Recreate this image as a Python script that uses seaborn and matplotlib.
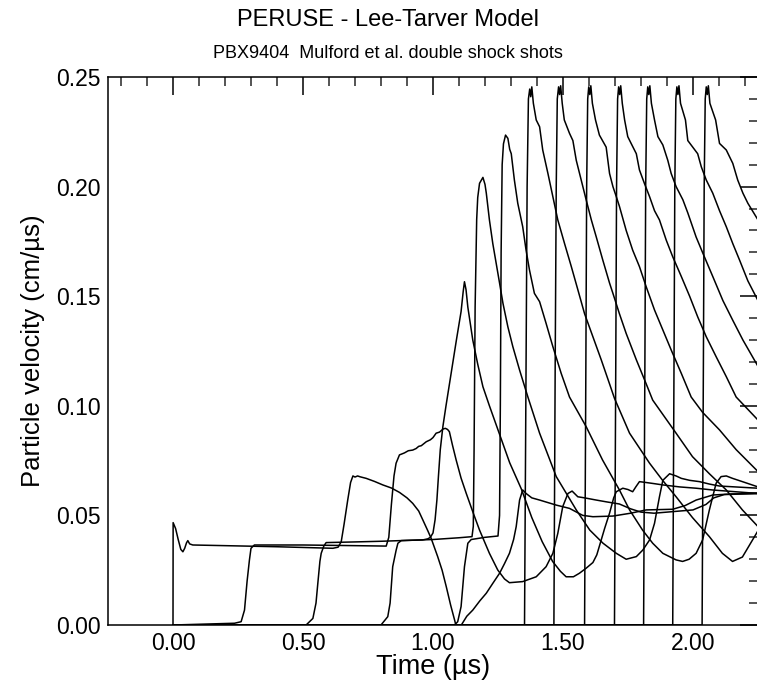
import numpy as np
import pandas as pd
import matplotlib
matplotlib.use("Agg")
import matplotlib.pyplot as plt
import seaborn as sns
from matplotlib.ticker import MultipleLocator, FormatStrFormatter

# ---------------- data (time in microseconds, particle velocity in cm/us) ----------------
g1_t = [0.0, 0.0005, 0.01, 0.02, 0.03, 0.038, 0.045, 0.052, 0.057, 0.064, 0.076, 0.2, 0.4, 0.615,
        0.635, 0.647, 0.658, 0.672, 0.683, 0.692, 0.70, 0.71, 0.72, 0.743, 0.775, 0.807, 0.84, 0.871,
        0.90, 0.922, 0.945, 0.961, 0.98, 0.993, 1.018, 1.035, 1.051, 1.068, 1.083, 1.092, 1.10, 1.109,
        1.13, 1.153, 1.18, 1.205, 1.23, 1.256, 1.275, 1.294, 1.31, 1.32, 1.333, 1.345, 1.358, 1.38,
        1.41, 1.474, 1.525, 1.576, 1.615, 1.692, 1.76, 1.82, 1.922, 1.97, 2.012, 2.076, 2.15, 2.25]
g1_v = [0.0, 0.0467, 0.044, 0.039, 0.0345, 0.0334, 0.035, 0.0375, 0.0385, 0.037, 0.0365, 0.0362, 0.0357, 0.035,
        0.0355, 0.038, 0.046, 0.057, 0.065, 0.068, 0.0675, 0.068, 0.0676, 0.0669, 0.0655, 0.0639, 0.0625, 0.0605,
        0.058, 0.0555, 0.052, 0.0479, 0.043, 0.0395, 0.0312, 0.025, 0.0175, 0.009, 0.0023, -0.002, -0.003, 0.0,
        0.004, 0.0068, 0.011, 0.0145, 0.019, 0.0236, 0.028, 0.0327, 0.039, 0.0449, 0.057, 0.0616, 0.060, 0.058,
        0.057, 0.0547, 0.0532, 0.050, 0.0494, 0.0497, 0.051, 0.0525, 0.0528, 0.0545, 0.057, 0.0593, 0.0598, 0.060]

g2_t = [0.0, 0.2365, 0.262, 0.275, 0.285, 0.294, 0.30, 0.313, 0.5, 0.7, 0.82, 0.83, 0.84, 0.85, 0.858,
        0.871, 0.89, 0.905, 0.922, 0.935, 0.945, 0.955, 0.974, 0.99, 1.0, 1.012, 1.025, 1.04, 1.048, 1.056,
        1.063, 1.075, 1.089, 1.108, 1.128, 1.155, 1.179, 1.217, 1.249, 1.275, 1.294, 1.345, 1.397, 1.435,
        1.461, 1.48, 1.499, 1.519, 1.535, 1.557, 1.583, 1.628, 1.666, 1.717, 1.76, 1.80, 1.85, 1.90, 1.95,
        2.0, 2.05, 2.08, 2.12, 2.25]
g2_v = [0.0, 0.0008, 0.0015, 0.0068, 0.020, 0.0297, 0.035, 0.0365, 0.0365, 0.0362, 0.036, 0.040, 0.055, 0.068, 0.0738,
        0.0776, 0.0785, 0.0795, 0.0798, 0.0805, 0.0815, 0.0818, 0.0836, 0.0845, 0.0855, 0.0875, 0.088, 0.0895, 0.0897, 0.0892,
        0.0882, 0.082, 0.0753, 0.067, 0.060, 0.051, 0.0433, 0.0327, 0.0251, 0.021, 0.0193, 0.0198, 0.022, 0.0266,
        0.0327, 0.0418, 0.054, 0.060, 0.0611, 0.0585, 0.058, 0.057, 0.0562, 0.0552, 0.053, 0.0515, 0.051, 0.0515, 0.052,
        0.0525, 0.055, 0.058, 0.0595, 0.060]

g3_t = [0.0, 0.512, 0.538, 0.55, 0.557, 0.565, 0.57, 0.58, 0.589, 0.7, 0.8, 0.9, 0.96, 0.98, 0.99, 1.0,
        1.008, 1.015, 1.021, 1.028, 1.038, 1.05, 1.07, 1.09, 1.108, 1.116, 1.121, 1.127, 1.134, 1.153, 1.172,
        1.192, 1.217, 1.256, 1.295, 1.34, 1.38, 1.42, 1.46, 1.49, 1.512, 1.54, 1.563, 1.59, 1.615, 1.63, 1.64,
        1.66, 1.679, 1.695, 1.705, 1.73, 1.75, 1.768, 1.78, 1.794, 1.82, 1.85, 1.884, 1.948, 2.012, 2.075, 2.25]
g3_v = [0.0, 0.0, 0.003, 0.010, 0.019, 0.029, 0.0327, 0.036, 0.0376, 0.0379, 0.0382, 0.0386, 0.0388, 0.0393, 0.040, 0.042,
        0.048, 0.057, 0.068, 0.080, 0.0905, 0.100, 0.115, 0.130, 0.143, 0.152, 0.1566, 0.153, 0.145, 0.130, 0.119,
        0.1087, 0.100, 0.087, 0.074, 0.062, 0.049, 0.038, 0.029, 0.0245, 0.022, 0.022, 0.0236, 0.026, 0.0285, 0.032, 0.036,
        0.044, 0.051, 0.058, 0.0608, 0.0624, 0.0618, 0.0608, 0.063, 0.0654, 0.065, 0.0645, 0.0639, 0.063, 0.0624, 0.0616, 0.060]

g4_t = [0.0, 0.80, 0.826, 0.835, 0.845, 0.858, 0.865, 0.878, 1.0, 1.10, 1.15, 1.155, 1.158, 1.162, 1.168,
        1.172, 1.179, 1.192, 1.2, 1.205, 1.217, 1.23, 1.243, 1.256, 1.269, 1.288, 1.307, 1.333, 1.365, 1.41,
        1.474, 1.551, 1.603, 1.654, 1.705, 1.743, 1.782, 1.807, 1.833, 1.852, 1.871, 1.884, 1.91, 1.935, 1.955,
        1.987, 2.025, 2.063, 2.102, 2.25]
g4_v = [0.0, 0.0, 0.0038, 0.010, 0.0266, 0.034, 0.0373, 0.0385, 0.039, 0.0398, 0.0403, 0.045, 0.08, 0.145, 0.185,
        0.195, 0.2015, 0.2042, 0.201, 0.197, 0.1848, 0.174, 0.165, 0.156, 0.1468, 0.136, 0.127, 0.1163, 0.104, 0.0875,
        0.0677, 0.0525, 0.0433, 0.0373, 0.0327, 0.030, 0.0312, 0.0342, 0.0388, 0.0464, 0.0585, 0.066, 0.069, 0.068, 0.0669,
        0.066, 0.0654, 0.0643, 0.0634, 0.0624]

g5_t = [0.0, 1.083, 1.095, 1.108, 1.121, 1.134, 1.147, 1.2, 1.25, 1.256, 1.259, 1.262, 1.266, 1.271, 1.279,
        1.288, 1.295, 1.301, 1.313, 1.326, 1.345, 1.358, 1.371, 1.39, 1.41, 1.435, 1.461, 1.493, 1.525, 1.589,
        1.652, 1.717, 1.756, 1.806, 1.845, 1.884, 1.935, 1.96, 1.985, 2.012, 2.037, 2.063, 2.089, 2.108, 2.128,
        2.152, 2.19, 2.25]
g5_v = [0.0, 0.0, 0.0015, 0.0084, 0.0266, 0.0373, 0.039, 0.040, 0.0406, 0.05, 0.10, 0.17, 0.21, 0.2195, 0.2235,
        0.222, 0.217, 0.215, 0.203, 0.1924, 0.1817, 0.171, 0.162, 0.1513, 0.1475, 0.1376, 0.127, 0.1148, 0.104, 0.0905,
        0.0753, 0.0616, 0.0525, 0.0433, 0.0373, 0.0327, 0.0297, 0.029, 0.030, 0.0327, 0.0388, 0.0525, 0.0647, 0.0677, 0.068,
        0.0669, 0.0654, 0.063]

g6_t = [0.0, 1.352, 1.358, 1.362, 1.367, 1.372, 1.376, 1.380, 1.386, 1.397, 1.410, 1.422, 1.442, 1.461,
        1.48, 1.506, 1.532, 1.557, 1.583, 1.615, 1.647, 1.679, 1.698, 1.756, 1.833, 1.883, 1.935, 1.998, 2.063,
        2.113, 2.152, 2.19, 2.229, 2.25]
g6_v = [0.0, 0.0, 0.12, 0.2, 0.240, 0.2445, 0.241, 0.2455, 0.238, 0.2304, 0.2273, 0.2167, 0.206, 0.1954,
        0.1848, 0.174, 0.1635, 0.153, 0.142, 0.1315, 0.121, 0.110, 0.1034, 0.0875, 0.0738, 0.066, 0.0585, 0.049, 0.0403,
        0.0327, 0.029, 0.031, 0.0388, 0.043]

g7_t = [0.0, 1.465, 1.47, 1.474, 1.478, 1.483, 1.487, 1.491, 1.497, 1.505, 1.525, 1.538, 1.551, 1.570,
        1.589, 1.609, 1.628, 1.653, 1.679, 1.692, 1.717, 1.743, 1.782, 1.82, 1.845, 1.935, 1.998, 2.063, 2.128,
        2.19, 2.25]
g7_v = [0.0, 0.0, 0.12, 0.2, 0.240, 0.2455, 0.242, 0.246, 0.238, 0.2304, 0.2243, 0.221, 0.212, 0.203,
        0.194, 0.1848, 0.177, 0.1665, 0.156, 0.1513, 0.142, 0.133, 0.121, 0.110, 0.1026, 0.0875, 0.0768, 0.069, 0.0616,
        0.0525, 0.0449]

g8_t = [0.0, 1.583, 1.588, 1.591, 1.595, 1.599, 1.603, 1.607, 1.613, 1.625, 1.64, 1.666, 1.679, 1.692,
        1.705, 1.717, 1.743, 1.768, 1.794, 1.82, 1.852, 1.884, 1.916, 1.955, 1.993, 2.037, 2.102, 2.166, 2.25]
g8_v = [0.0, 0.0, 0.12, 0.2, 0.240, 0.2455, 0.242, 0.246, 0.238, 0.2304, 0.2235, 0.218, 0.206, 0.200,
        0.1954, 0.191, 0.180, 0.171, 0.1635, 0.1543, 0.1437, 0.1346, 0.1255, 0.1148, 0.104, 0.097, 0.089, 0.080, 0.070]

g9_t = [0.0, 1.698, 1.703, 1.706, 1.710, 1.714, 1.718, 1.722, 1.728, 1.737, 1.749, 1.762, 1.782, 1.794,
        1.813, 1.833, 1.852, 1.871, 1.897, 1.922, 1.955, 1.987, 2.018, 2.051, 2.089, 2.128, 2.166, 2.25]
g9_v = [0.0, 0.0, 0.12, 0.2, 0.240, 0.2455, 0.242, 0.246, 0.238, 0.2304, 0.2228, 0.2197, 0.215, 0.2076,
        0.2015, 0.1954, 0.189, 0.1848, 0.1756, 0.168, 0.159, 0.150, 0.1406, 0.1315, 0.1224, 0.1133, 0.104, 0.0935]

g10_t = [0.0, 1.81, 1.815, 1.818, 1.822, 1.826, 1.830, 1.834, 1.840, 1.852, 1.865, 1.884, 1.903, 1.916,
         1.935, 1.961, 1.98, 2.012, 2.038, 2.076, 2.115, 2.153, 2.192, 2.25]
g10_v = [0.0, 0.0, 0.12, 0.2, 0.240, 0.2455, 0.242, 0.246, 0.238, 0.2304, 0.2228, 0.219, 0.212, 0.206,
         0.200, 0.194, 0.188, 0.177, 0.1696, 0.159, 0.148, 0.139, 0.130, 0.118]

g11_t = [0.0, 1.922, 1.927, 1.930, 1.934, 1.938, 1.942, 1.946, 1.952, 1.971, 1.98, 1.999, 2.018, 2.032,
         2.051, 2.076, 2.102, 2.128, 2.153, 2.179, 2.211, 2.25]
g11_v = [0.0, 0.0, 0.12, 0.2, 0.240, 0.2455, 0.242, 0.246, 0.238, 0.2304, 0.221, 0.218, 0.215, 0.209,
         0.203, 0.197, 0.189, 0.1817, 0.174, 0.1665, 0.157, 0.148]

g12_t = [0.0, 2.035, 2.040, 2.043, 2.047, 2.051, 2.055, 2.059, 2.065, 2.087, 2.102, 2.128, 2.153, 2.172,
         2.192, 2.211, 2.25]
g12_v = [0.0, 0.0, 0.12, 0.2, 0.240, 0.2455, 0.242, 0.246, 0.238, 0.2304, 0.2197, 0.2167, 0.2106, 0.203,
         0.197, 0.1924, 0.1848]

gauges = {
    "g1": (g1_t, g1_v), "g2": (g2_t, g2_v), "g3": (g3_t, g3_v), "g4": (g4_t, g4_v),
    "g5": (g5_t, g5_v), "g6": (g6_t, g6_v), "g7": (g7_t, g7_v), "g8": (g8_t, g8_v),
    "g9": (g9_t, g9_v), "g10": (g10_t, g10_v), "g11": (g11_t, g11_v), "g12": (g12_t, g12_v),
}

title = "PERUSE - Lee-Tarver Model"
subtitle = "PBX9404  Mulford et al. double shock shots"
x_label = "Time (\u00b5s)"
y_label = "Particle velocity (cm/\u00b5s)"

# ---------------- figure ----------------
frames = []
for name, (t, v) in gauges.items():
    frames.append(pd.DataFrame({"gauge": name, "t": t, "v": v}))
df = pd.concat(frames, ignore_index=True)

sns.set_theme(style="white")
plt.rcParams["font.family"] = ["Liberation Sans", "DejaVu Sans"]
plt.rcParams["text.color"] = "black"
plt.rcParams["axes.labelcolor"] = "black"

W, H = 757, 682
fig = plt.figure(figsize=(W / 100, H / 100), dpi=100)
ax = fig.add_axes([108 / W, (H - 625) / H, 650 / W, 548 / H])

sns.lineplot(data=df, x="t", y="v", units="gauge", estimator=None, sort=False,
             color="black", linewidth=1.1, ax=ax, legend=False)

ax.set_xlim(-0.25, 2.25)
ax.set_ylim(0.0, 0.25)
ax.xaxis.set_major_locator(MultipleLocator(0.5))
ax.xaxis.set_minor_locator(MultipleLocator(0.1))
ax.yaxis.set_major_locator(MultipleLocator(0.05))
ax.yaxis.set_minor_locator(MultipleLocator(0.01))
ax.xaxis.set_major_formatter(FormatStrFormatter("%.2f"))
ax.yaxis.set_major_formatter(FormatStrFormatter("%.2f"))
ax.tick_params(which="major", direction="in", length=13, width=1.1, top=True, right=True,
               labelsize=16.5, colors="black", pad=5)
ax.tick_params(which="minor", direction="in", length=6.5, width=1.1, top=True, right=True)
for s in ax.spines.values():
    s.set_color("black")
    s.set_linewidth(1.1)

ax.set_xlabel(x_label, fontsize=19.5, labelpad=-1)
ax.set_ylabel(y_label, fontsize=18.5, labelpad=8)

fig.text(0.512, 1 - 20 / H, title, ha="center", va="center", fontsize=17)
fig.text(0.512, 1 - 54 / H, subtitle, ha="center", va="center", fontsize=13)

fig.savefig("out.png", dpi=100, facecolor="white")
